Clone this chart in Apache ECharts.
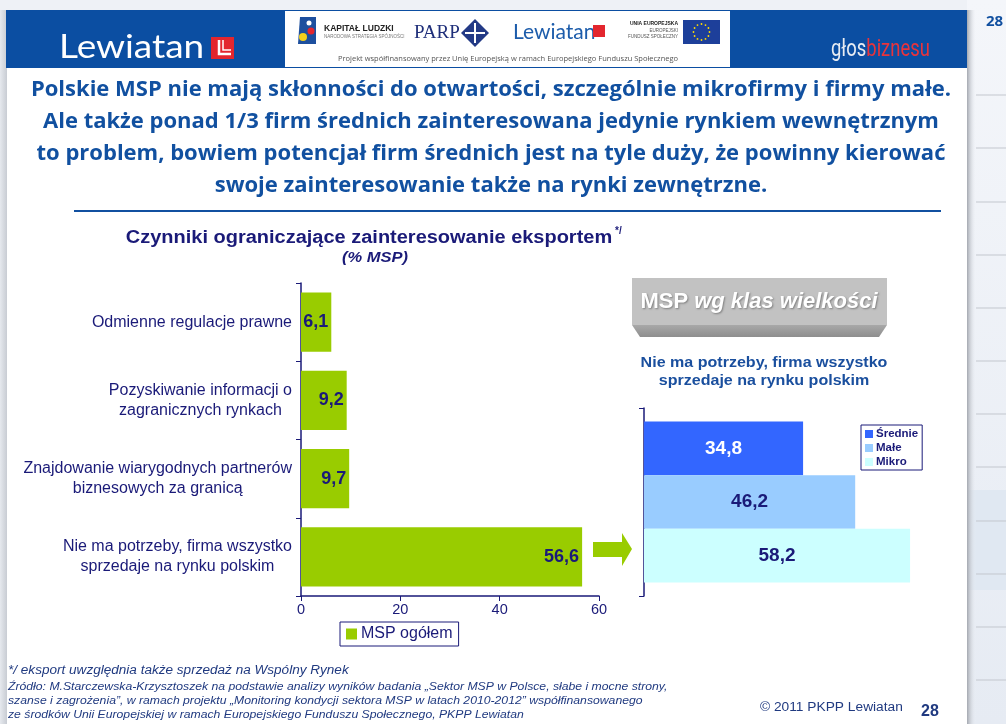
<!DOCTYPE html>
<html>
<head>
<meta charset="utf-8">
<script src="https://cdn.jsdelivr.net/npm/echarts@6/dist/echarts.min.js"></script>
<style>
  html, body { margin: 0; padding: 0; background: #eef1f6; }
  #wykres { width: 1006px; height: 724px; }
</style>
</head>
<body>
<div id="wykres"></div>
<script>
// dane z wykresu
const kategorie = [
  'Odmienne regulacje prawne',
  'Pozyskiwanie informacji o\nzagranicznych rynkach',
  'Znajdowanie wiarygodnych partnerów\nbiznesowych za granicą',
  'Nie ma potrzeby, firma wszystko\nsprzedaje na rynku polskim'
];
const ogolem = [6.1, 9.2, 9.7, 56.6];
const osX = [0, 20, 40, 60];
const klasy = ['Średnie', 'Małe', 'Mikro'];
const klasyWartosci = [34.8, 46.2, 58.2];

const granat = '#1a1a78';
const niebieski = '#1150a0';
const stopka = '#203a80';
const arial = '"Liberation Sans", Arial, sans-serif';
const lato = 'Lato, sans-serif';
const openSans = '"Open Sans", sans-serif';
const przecinek = v => v.toFixed(1).replace('.', ',');

const chart = echarts.init(document.getElementById('wykres'));

// gwiazdki flagi UE
const gwiazdki = [];
for (let i = 0; i < 12; i++) {
  const a = i * Math.PI / 6;
  gwiazdki.push({ type: 'circle', shape: { cx: 701.5 + 8 * Math.cos(a), cy: 32 + 8 * Math.sin(a), r: 0.9 }, style: { fill: '#ffdd00' } });
}

// linie na pasku po prawej
const linieBoczne = [95, 148, 202, 255, 308, 361, 414, 467, 521, 574, 627, 680].map(y => ({
  type: 'line', shape: { x1: 976, y1: y, x2: 1006, y2: y }, style: { stroke: '#c3c7ce', lineWidth: 1 }
}));

// tekst: rozmiar, kolor, reszta stylu i ewentualne rozciagniecie w poziomie
const tekst = (x, y, t, fill, size, s, skala) => ({
  type: 'text', x, y, scaleX: skala || 1,
  style: Object.assign({ text: t, fill, fontSize: size, fontFamily: arial, textVerticalAlign: 'middle' }, s || {})
});
const tytul = (y, t) => tekst(491, y, t, niebieski, 22, { fontWeight: 'bold', fontFamily: openSans, textAlign: 'center' });

const grafika = [
  { type: 'rect', shape: { x: 0, y: 0, width: 1006, height: 724 }, style: { fill: '#eef1f6' }, z: -10 },
  { type: 'rect', shape: { x: 967, y: 0, width: 39, height: 724 },
    style: { fill: new echarts.graphic.LinearGradient(0, 0, 0, 1, [{ offset: 0, color: '#f4f6fa' }, { offset: 1, color: '#e6ebf3' }]) }, z: -9 },
  { type: 'rect', shape: { x: 967, y: 490, width: 39, height: 100 }, style: { fill: '#e0e8f2' }, z: -9 },
  ...linieBoczne,
  tekst(986, 22, '28', niebieski, 15, { fontWeight: 'bold', fontFamily: openSans }),
  // slajd
  { type: 'rect', shape: { x: 0, y: 10, width: 7, height: 714 },
    style: { fill: new echarts.graphic.LinearGradient(0, 0, 1, 0, [{ offset: 0, color: '#e6e9ee' }, { offset: 1, color: '#c8ccd3' }]) }, z: -8 },
  { type: 'rect', shape: { x: 7, y: 10, width: 960, height: 714 }, style: { fill: '#ffffff' }, z: -8 },
  { type: 'rect', shape: { x: 967, y: 10, width: 9, height: 714 },
    style: { fill: new echarts.graphic.LinearGradient(0, 0, 1, 0, [{ offset: 0, color: '#a4a8b0' }, { offset: 1, color: 'rgba(238,241,246,0)' }]) }, z: -8 },
  // naglowek
  { type: 'rect', shape: { x: 6, y: 10, width: 961, height: 58 }, style: { fill: '#0b4ea2' } },
  { type: 'rect', shape: { x: 285, y: 11, width: 445, height: 56 }, style: { fill: '#ffffff' } },
  tekst(59, 47, 'Lewiatan', '#ffffff', 33, { fontFamily: lato }, 1.12),
  { type: 'rect', shape: { x: 211, y: 37, width: 23, height: 22 }, style: { fill: '#e3262e' } },
  { type: 'polyline', shape: { points: [[219, 40], [219, 54], [231, 54]] }, style: { stroke: '#ffffff', lineWidth: 2.5, fill: null } },
  { type: 'polyline', shape: { points: [[223, 40], [223, 50], [231, 50]] }, style: { stroke: '#ffffff', lineWidth: 1.5, fill: null } },
  { type: 'text', x: 831, y: 50, scaleX: 0.8, style: {
    text: '{a|głos}{b|biznesu}', textVerticalAlign: 'middle',
    rich: {
      a: { fill: '#e8ecf2', fontSize: 23, fontFamily: 'Roboto, sans-serif' },
      b: { fill: '#e8343c', fontSize: 23, fontFamily: 'Roboto, sans-serif' }
    } } },
  // logotypy w bialym polu
  { type: 'polygon', shape: { points: [[300, 17], [316, 17], [316, 44], [298, 44]] }, style: { fill: '#1d4f9e' } },
  { type: 'circle', shape: { cx: 303, cy: 37, r: 4 }, style: { fill: '#f4cf1c' } },
  { type: 'circle', shape: { cx: 311, cy: 31, r: 3.5 }, style: { fill: '#e3262e' } },
  { type: 'circle', shape: { cx: 309, cy: 23, r: 2.5 }, style: { fill: '#ffffff' } },
  tekst(324, 29, 'KAPITAŁ LUDZKI', '#222222', 8.5, { fontWeight: 'bold' }),
  tekst(324, 37, 'NARODOWA STRATEGIA SPÓJNOŚCI', '#777777', 4.5),
  tekst(414, 33, 'PARP', '#1f2f7a', 19, { fontFamily: '"Liberation Serif", serif' }),
  { type: 'polygon', shape: { points: [[475, 19], [489, 33], [475, 47], [461, 33]] }, style: { fill: '#233a86' } },
  { type: 'line', shape: { x1: 465, y1: 33, x2: 485, y2: 33 }, style: { stroke: '#ffffff', lineWidth: 2 } },
  { type: 'line', shape: { x1: 475, y1: 23, x2: 475, y2: 43 }, style: { stroke: '#ffffff', lineWidth: 2 } },
  tekst(513, 32, 'Lewiatan', '#1c5cab', 21, { fontFamily: lato }),
  { type: 'rect', shape: { x: 593, y: 25, width: 12, height: 12 }, style: { fill: '#e3262e' } },
  tekst(678, 24, 'UNIA EUROPEJSKA', '#222222', 5, { fontWeight: 'bold', textAlign: 'right' }),
  tekst(678, 31, 'EUROPEJSKI', '#555555', 4.5, { textAlign: 'right' }),
  tekst(678, 37, 'FUNDUSZ SPOŁECZNY', '#555555', 4.5, { textAlign: 'right' }),
  { type: 'rect', shape: { x: 683, y: 20, width: 37, height: 24 }, style: { fill: '#1d3f9a' } },
  ...gwiazdki,
  tekst(508, 59, 'Projekt współfinansowany przez Unię Europejską w ramach Europejskiego Funduszu Społecznego',
    '#555555', 7.5, { fontFamily: openSans, textAlign: 'center' }),
  // tytul slajdu
  tytul(90, 'Polskie MSP nie mają skłonności do otwartości, szczególnie mikrofirmy i firmy małe.'),
  tytul(122, 'Ale także ponad 1/3 firm średnich zainteresowana jedynie rynkiem wewnętrznym'),
  tytul(154, 'to problem, bowiem potencjał firm średnich jest na tyle duży, że powinny kierować'),
  tytul(186, 'swoje zainteresowanie także na rynki zewnętrzne.'),
  { type: 'line', shape: { x1: 74, y1: 211, x2: 941, y2: 211 }, style: { stroke: niebieski, lineWidth: 2 } },
  // tytul lewego wykresu
  tekst(369, 238, 'Czynniki ograniczające zainteresowanie eksportem', granat, 18, { fontWeight: 'bold', textAlign: 'center' }, 1.11),
  tekst(615, 231, '*/', granat, 10, { fontWeight: 'bold' }),
  tekst(375, 258, '(% MSP)', granat, 14, { fontWeight: 'bold', fontStyle: 'italic', textAlign: 'center' }, 1.18),
  // strzalka
  { type: 'polygon', shape: { points: [[593, 542], [622, 542], [622, 533], [632, 549], [622, 566], [622, 557], [593, 557]] }, style: { fill: '#99cc00' } },
  // pudelko MSP wg klas wielkosci
  { type: 'rect', shape: { x: 632, y: 278, width: 255, height: 47 }, style: { fill: '#c2c2c2' } },
  { type: 'polygon', shape: { points: [[632, 325], [887, 325], [879, 337], [640, 337]] },
    style: { fill: new echarts.graphic.LinearGradient(0, 0, 0, 1, [{ offset: 0, color: '#a8a8a8' }, { offset: 1, color: '#8e8e8e' }]) } },
  { type: 'text', x: 759, y: 302, style: {
    text: '{a|MSP }{b|wg klas wielkości}', textAlign: 'center', textVerticalAlign: 'middle',
    textShadowColor: 'rgba(0,0,0,0.35)', textShadowBlur: 2, textShadowOffsetX: 1, textShadowOffsetY: 1,
    rich: {
      a: { fill: '#ffffff', fontSize: 22, fontWeight: 'bold', fontFamily: arial },
      b: { fill: '#ffffff', fontSize: 22, fontWeight: 'bold', fontStyle: 'italic', fontFamily: arial }
    } } },
  tekst(764, 363, 'Nie ma potrzeby, firma wszystko', '#1a4f9e', 15, { fontWeight: 'bold', textAlign: 'center' }, 1.07),
  tekst(764, 381, 'sprzedaje na rynku polskim', '#1a4f9e', 15, { fontWeight: 'bold', textAlign: 'center' }, 1.07),
  // stopka
  tekst(8, 671, '*/ eksport uwzględnia także sprzedaż na Wspólny Rynek', stopka, 12, { fontStyle: 'italic' }, 1.13),
  tekst(8, 687, 'Źródło: M.Starczewska-Krzysztoszek na podstawie analizy wyników badania „Sektor MSP w Polsce, słabe i mocne strony,', stopka, 11, { fontStyle: 'italic' }, 1.11),
  tekst(8, 701, 'szanse i zagrożenia”, w ramach projektu „Monitoring kondycji sektora MSP w latach 2010-2012” współfinansowanego', stopka, 11, { fontStyle: 'italic' }, 1.11),
  tekst(8, 715, 'ze środków Unii Europejskiej w ramach Europejskiego Funduszu Społecznego, PKPP Lewiatan', stopka, 11, { fontStyle: 'italic' }, 1.11),
  tekst(760, 708, '© 2011 PKPP Lewiatan', stopka, 12.5, null, 1.1),
  tekst(921, 712, '28', stopka, 16, { fontWeight: 'bold' })
];

chart.setOption({
  animation: false,
  backgroundColor: 'transparent',
  graphic: { elements: grafika },
  grid: [
    { left: 301, top: 283, width: 298, height: 313 },
    { left: 644, top: 408, width: 320, height: 188 }
  ],
  legend: [
    {
      data: ['MSP ogółem'], left: 340, top: 622, icon: 'rect', itemWidth: 11, itemHeight: 11, itemGap: 4,
      borderColor: granat, borderWidth: 1, borderRadius: 0, padding: [4, 6, 4, 6],
      textStyle: { color: granat, fontSize: 16, fontFamily: arial, padding: [0, 0, 0, -1] }
    },
    {
      data: klasy, left: 861, top: 425, orient: 'vertical', icon: 'rect', itemWidth: 8, itemHeight: 8, itemGap: 2,
      borderColor: granat, borderWidth: 1, borderRadius: 0, padding: [3, 4, 2, 4],
      textStyle: { color: granat, fontSize: 11.5, fontWeight: 'bold', fontFamily: arial, padding: [0, 0, 0, -2] }
    }
  ],
  xAxis: [
    {
      gridIndex: 0, type: 'value', min: osX[0], max: osX[osX.length - 1], interval: osX[1] - osX[0],
      axisLine: { show: true, lineStyle: { color: granat, width: 1.5 } },
      axisTick: { show: true, length: 5, lineStyle: { color: granat } },
      axisLabel: { color: granat, fontSize: 14.5, fontFamily: arial, margin: 6 },
      splitLine: { show: false }
    },
    { gridIndex: 1, type: 'value', min: 0, max: 70, show: false }
  ],
  yAxis: [
    {
      gridIndex: 0, type: 'category', data: kategorie, inverse: true,
      axisLine: { show: true, lineStyle: { color: granat, width: 1.5 } },
      axisTick: { show: true, length: 5, lineStyle: { color: granat } },
      axisLabel: {
        margin: 9, color: granat,
        formatter: v => v.split('\n').map(s => '{c|' + s + '}').join('\n'),
        rich: { c: { align: 'center', fontSize: 16, lineHeight: 20, color: granat, fontFamily: arial } }
      }
    },
    {
      gridIndex: 1, type: 'category', data: ['Nie ma potrzeby'], inverse: true,
      axisLine: { show: true, lineStyle: { color: granat, width: 1.5 } },
      axisTick: { show: true, length: 5, lineStyle: { color: granat } },
      axisLabel: { show: false }
    }
  ],
  series: [
    {
      name: 'MSP ogółem', type: 'bar', xAxisIndex: 0, yAxisIndex: 0, data: ogolem,
      barCategoryGap: '24%', itemStyle: { color: '#99cc00' },
      label: { show: true, position: 'insideRight', distance: 3, formatter: p => przecinek(p.value),
        color: granat, fontSize: 18, fontWeight: 'bold', fontFamily: arial }
    },
    ...klasy.map((k, i) => ({
      name: k, type: 'bar', xAxisIndex: 1, yAxisIndex: 1, data: [klasyWartosci[i]],
      barGap: '0%', barCategoryGap: '14.4%',
      itemStyle: { color: ['#3366ff', '#99ccff', '#ccffff'][i] },
      label: { show: true, position: 'inside', formatter: p => przecinek(p.value),
        color: i === 0 ? '#ffffff' : granat, fontSize: 19, fontWeight: 'bold', fontFamily: arial }
    }))
  ]
});
</script>
</body>
</html>
